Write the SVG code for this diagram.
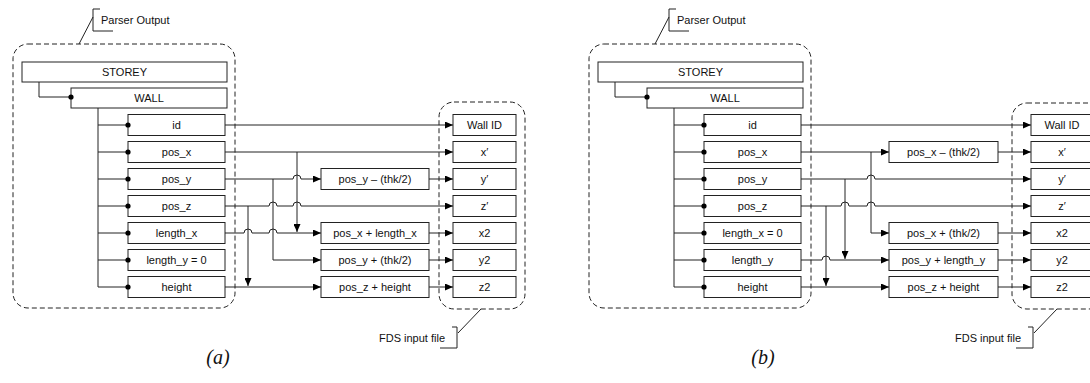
<svg xmlns="http://www.w3.org/2000/svg" width="1090" height="383" viewBox="0 0 1090 383">
<style>
.bx{fill:#fff;stroke:#222;stroke-width:1}
.ds{fill:none;stroke:#222;stroke-width:1;stroke-dasharray:5,3}
.ln{fill:none;stroke:#222;stroke-width:1}
.ar{marker-end:url(#ah)}
.t{font-family:"Liberation Sans",Arial,sans-serif;font-size:11px;fill:#111;text-anchor:middle}
.tl{font-family:"Liberation Sans",Arial,sans-serif;font-size:11px;fill:#111}
.cap{font-family:"Liberation Serif","Times New Roman",serif;font-style:italic;font-size:20px;fill:#111;text-anchor:middle}
.dot{fill:#000}
</style>
<defs>
<marker id="ah" markerWidth="8" markerHeight="7" refX="8" refY="3.5" orient="auto" markerUnits="userSpaceOnUse"><path d="M0,0 L8,3.5 L0,7z" fill="#000"/></marker>
</defs>
<rect width="1090" height="383" fill="#fff"/>

<!-- ===== Diagram (a) ===== -->
<g id="a-parser-group">
<rect class="ds" x="13" y="44" width="222" height="264" rx="15"/>
<path class="ln" d="M100,9 H93 V31 H113 M93,17 L79,44"/>
<text class="tl" x="101" y="24">Parser Output</text>
</g>
<g id="a-output-group">
<rect class="ds" x="439" y="102" width="86" height="207" rx="15"/>
<path class="ln" d="M452,327 H457 V348 H440 M458,333 L481,309"/>
<text class="tl" x="445" y="342" text-anchor="end">FDS input file</text>
</g>

<g id="a-connectors">
<path class="ln" d="M39,82 V97 H71"/>
<path class="ln" d="M98,108 V287 M98,125 H128 M98,152 H128 M98,179 H128 M98,206 H128 M98,233 H128 M98,260 H128 M98,287 H128"/>
<path class="ln ar" d="M225,125 H453"/>
<path class="ln ar" d="M225,152 H453"/>
<path class="ln ar" d="M297,152 V232"/>
<path class="ln ar" d="M225,179 H293 a4,4 0 0 1 8,0 H321"/>
<path class="ln ar" d="M273,179 V260 H321"/>
<path class="ln ar" d="M225,206 H269 a4,4 0 0 1 8,0 H293 a4,4 0 0 1 8,0 H453"/>
<path class="ln ar" d="M248,206 V286"/>
<path class="ln ar" d="M225,233 H244 a4,4 0 0 1 8,0 H269 a4,4 0 0 1 8,0 H321"/>
<path class="ln ar" d="M225,287 H321"/>
<path class="ln ar" d="M429,179 H453"/>
<path class="ln ar" d="M429,233 H453"/>
<path class="ln ar" d="M429,260 H453"/>
<path class="ln ar" d="M429,287 H453"/>
</g>

<g id="a-storey"><rect class="bx" x="22" y="62" width="205" height="20"/><text class="t" x="124.5" y="76">STOREY</text></g>
<g id="a-wall"><rect class="bx" x="71" y="88" width="156" height="20"/><text class="t" x="149" y="102">WALL</text><circle class="dot" cx="71" cy="97" r="2.6"/></g>
<g id="a-id"><rect class="bx" x="128" y="114.5" width="97" height="21"/><text class="t" x="176.5" y="129">id</text><circle class="dot" cx="128" cy="125" r="2.6"/></g>
<g id="a-pos_x"><rect class="bx" x="128" y="141.5" width="97" height="21"/><text class="t" x="176.5" y="156">pos_x</text><circle class="dot" cx="128" cy="152" r="2.6"/></g>
<g id="a-pos_y"><rect class="bx" x="128" y="168.5" width="97" height="21"/><text class="t" x="176.5" y="183">pos_y</text><circle class="dot" cx="128" cy="179" r="2.6"/></g>
<g id="a-pos_z"><rect class="bx" x="128" y="195.5" width="97" height="21"/><text class="t" x="176.5" y="210">pos_z</text><circle class="dot" cx="128" cy="206" r="2.6"/></g>
<g id="a-length_x"><rect class="bx" x="128" y="222.5" width="97" height="21"/><text class="t" x="176.5" y="237">length_x</text><circle class="dot" cx="128" cy="233" r="2.6"/></g>
<g id="a-length_y"><rect class="bx" x="128" y="249.5" width="97" height="21"/><text class="t" x="176.5" y="264">length_y = 0</text><circle class="dot" cx="128" cy="260" r="2.6"/></g>
<g id="a-height"><rect class="bx" x="128" y="276.5" width="97" height="21"/><text class="t" x="176.5" y="291">height</text><circle class="dot" cx="128" cy="287" r="2.6"/></g>

<g id="a-m1"><rect class="bx" x="321" y="168.5" width="108" height="21"/><text class="t" x="375" y="183">pos_y – (thk/2)</text></g>
<g id="a-m2"><rect class="bx" x="321" y="222.5" width="108" height="21"/><text class="t" x="375" y="237">pos_x + length_x</text></g>
<g id="a-m3"><rect class="bx" x="321" y="249.5" width="108" height="21"/><text class="t" x="375" y="264">pos_y + (thk/2)</text></g>
<g id="a-m4"><rect class="bx" x="321" y="276.5" width="108" height="21"/><text class="t" x="375" y="291">pos_z + height</text></g>

<g id="a-o1"><rect class="bx" x="453" y="114.5" width="63" height="21"/><text class="t" x="484.5" y="129">Wall ID</text></g>
<g id="a-o2"><rect class="bx" x="453" y="141.5" width="63" height="21"/><text class="t" x="484.5" y="156">x′</text></g>
<g id="a-o3"><rect class="bx" x="453" y="168.5" width="63" height="21"/><text class="t" x="484.5" y="183">y′</text></g>
<g id="a-o4"><rect class="bx" x="453" y="195.5" width="63" height="21"/><text class="t" x="484.5" y="210">z′</text></g>
<g id="a-o5"><rect class="bx" x="453" y="222.5" width="63" height="21"/><text class="t" x="484.5" y="237">x2</text></g>
<g id="a-o6"><rect class="bx" x="453" y="249.5" width="63" height="21"/><text class="t" x="484.5" y="264">y2</text></g>
<g id="a-o7"><rect class="bx" x="453" y="276.5" width="63" height="21"/><text class="t" x="484.5" y="291">z2</text></g>
<text class="cap" x="218" y="364">(a)</text>

<!-- ===== Diagram (b) ===== -->
<g id="b-parser-group">
<rect class="ds" x="589" y="44" width="222" height="264" rx="15"/>
<path class="ln" d="M676,9 H669 V31 H689 M669,17 L655,44"/>
<text class="tl" x="677" y="24">Parser Output</text>
</g>
<g id="b-output-group">
<rect class="ds" x="1012" y="103" width="92" height="206" rx="15"/>
<path class="ln" d="M1028,327 H1033 V348 H1016 M1034,333 L1057,309"/>
<text class="tl" x="1021" y="342" text-anchor="end">FDS input file</text>
</g>

<g id="b-connectors">
<path class="ln" d="M615,82 V97 H647"/>
<path class="ln" d="M674,108 V287 M674,125 H704 M674,152 H704 M674,179 H704 M674,206 H704 M674,233 H704 M674,260 H704 M674,287 H704"/>
<path class="ln ar" d="M801,125 H1031"/>
<path class="ln ar" d="M801,152 H889"/>
<path class="ln ar" d="M871,152 V233 H889"/>
<path class="ln ar" d="M801,179 H867 a4,4 0 0 1 8,0 H1031"/>
<path class="ln ar" d="M845,179 V259"/>
<path class="ln ar" d="M801,206 H841 a4,4 0 0 1 8,0 H867 a4,4 0 0 1 8,0 H1031"/>
<path class="ln ar" d="M826,206 V286"/>
<path class="ln ar" d="M801,260 H822 a4,4 0 0 1 8,0 H889"/>
<path class="ln ar" d="M801,287 H889"/>
<path class="ln ar" d="M998,152 H1031"/>
<path class="ln ar" d="M998,233 H1031"/>
<path class="ln ar" d="M998,260 H1031"/>
<path class="ln ar" d="M998,287 H1031"/>
</g>

<g id="b-storey"><rect class="bx" x="598" y="62" width="205" height="20"/><text class="t" x="700.5" y="76">STOREY</text></g>
<g id="b-wall"><rect class="bx" x="647" y="88" width="156" height="20"/><text class="t" x="725" y="102">WALL</text><circle class="dot" cx="647" cy="97" r="2.6"/></g>
<g id="b-id"><rect class="bx" x="704" y="114.5" width="97" height="21"/><text class="t" x="752.5" y="129">id</text><circle class="dot" cx="704" cy="125" r="2.6"/></g>
<g id="b-pos_x"><rect class="bx" x="704" y="141.5" width="97" height="21"/><text class="t" x="752.5" y="156">pos_x</text><circle class="dot" cx="704" cy="152" r="2.6"/></g>
<g id="b-pos_y"><rect class="bx" x="704" y="168.5" width="97" height="21"/><text class="t" x="752.5" y="183">pos_y</text><circle class="dot" cx="704" cy="179" r="2.6"/></g>
<g id="b-pos_z"><rect class="bx" x="704" y="195.5" width="97" height="21"/><text class="t" x="752.5" y="210">pos_z</text><circle class="dot" cx="704" cy="206" r="2.6"/></g>
<g id="b-length_x"><rect class="bx" x="704" y="222.5" width="97" height="21"/><text class="t" x="752.5" y="237">length_x = 0</text><circle class="dot" cx="704" cy="233" r="2.6"/></g>
<g id="b-length_y"><rect class="bx" x="704" y="249.5" width="97" height="21"/><text class="t" x="752.5" y="264">length_y</text><circle class="dot" cx="704" cy="260" r="2.6"/></g>
<g id="b-height"><rect class="bx" x="704" y="276.5" width="97" height="21"/><text class="t" x="752.5" y="291">height</text><circle class="dot" cx="704" cy="287" r="2.6"/></g>

<g id="b-m1"><rect class="bx" x="889" y="141.5" width="109" height="21"/><text class="t" x="943.5" y="156">pos_x – (thk/2)</text></g>
<g id="b-m2"><rect class="bx" x="889" y="222.5" width="109" height="21"/><text class="t" x="943.5" y="237">pos_x + (thk/2)</text></g>
<g id="b-m3"><rect class="bx" x="889" y="249.5" width="109" height="21"/><text class="t" x="943.5" y="264">pos_y + length_y</text></g>
<g id="b-m4"><rect class="bx" x="889" y="276.5" width="109" height="21"/><text class="t" x="943.5" y="291">pos_z + height</text></g>

<g id="b-o1"><rect class="bx" x="1031" y="114.5" width="63" height="21"/><text class="t" x="1062" y="129">Wall ID</text></g>
<g id="b-o2"><rect class="bx" x="1031" y="141.5" width="63" height="21"/><text class="t" x="1062" y="156">x′</text></g>
<g id="b-o3"><rect class="bx" x="1031" y="168.5" width="63" height="21"/><text class="t" x="1062" y="183">y′</text></g>
<g id="b-o4"><rect class="bx" x="1031" y="195.5" width="63" height="21"/><text class="t" x="1062" y="210">z′</text></g>
<g id="b-o5"><rect class="bx" x="1031" y="222.5" width="63" height="21"/><text class="t" x="1062" y="237">x2</text></g>
<g id="b-o6"><rect class="bx" x="1031" y="249.5" width="63" height="21"/><text class="t" x="1062" y="264">y2</text></g>
<g id="b-o7"><rect class="bx" x="1031" y="276.5" width="63" height="21"/><text class="t" x="1062" y="291">z2</text></g>
<text class="cap" x="763" y="364">(b)</text>
</svg>
